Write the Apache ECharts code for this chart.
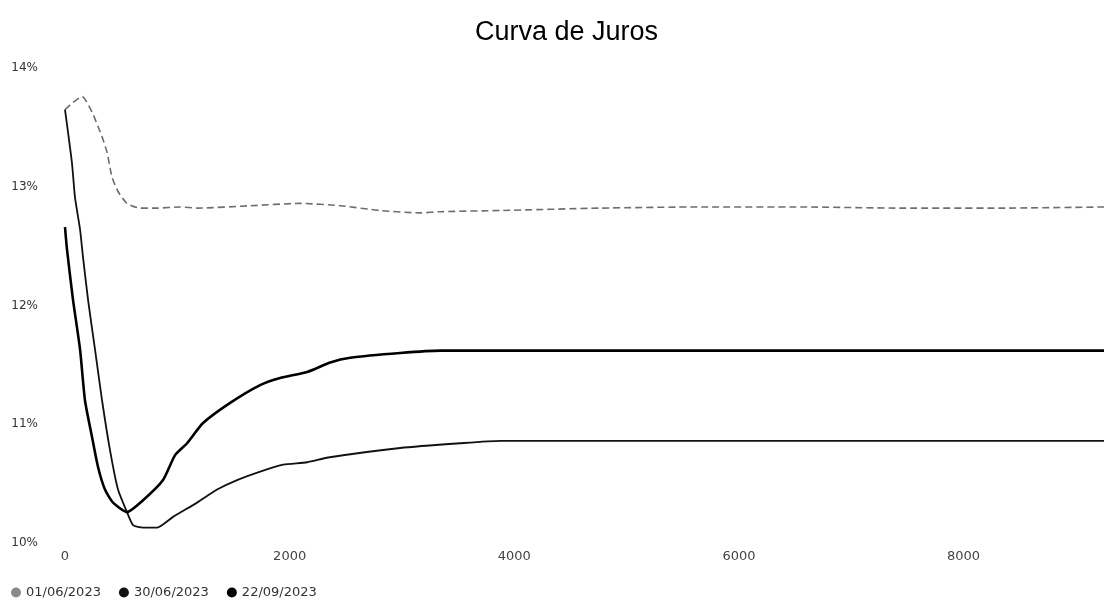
<!DOCTYPE html>
<html>
<head>
<meta charset="utf-8">
<title>Curva de Juros</title>
<script src="https://cdn.jsdelivr.net/npm/echarts@6/dist/echarts.min.js"></script>
<style>
    html, body { margin: 0; padding: 0; background: #fff; }
    #chart { width: 1104px; height: 601px; }
</style>
</head>
<body>
<div id="chart"></div>
<script>
// Series names (legend)
const seriesNames = ['01/06/2023', '30/06/2023', '22/09/2023'];

// 01/06/2023 - days to maturity and rate (%)
const days0106 = [0, 71, 151, 240, 330, 374, 419, 472, 552, 668, 820, 1024, 1176, 1648, 2094, 2450, 2806, 3163, 3341, 3875, 4766, 5657, 6548, 7439, 8330, 9250];
const rate0106 = [13.65, 13.71, 13.76, 13.63, 13.42, 13.29, 13.08, 12.96, 12.86, 12.82, 12.82, 12.83, 12.82, 12.84, 12.86, 12.84, 12.80, 12.78, 12.79, 12.80, 12.82, 12.83, 12.83, 12.82, 12.82, 12.83];

// 30/06/2023
const days3006 = [0, 62, 89, 134, 160, 205, 267, 330, 401, 472, 552, 606, 695, 820, 962, 1176, 1354, 1532, 1764, 1942, 2156, 2343, 2984, 3519, 3875, 9250];
const rate3006 = [13.65, 13.20, 12.91, 12.64, 12.41, 12.05, 11.63, 11.20, 10.78, 10.45, 10.26, 10.15, 10.13, 10.13, 10.22, 10.34, 10.45, 10.53, 10.61, 10.66, 10.68, 10.72, 10.80, 10.84, 10.86, 10.86];

// 22/09/2023
const days2209 = [0, 18, 71, 134, 178, 241, 294, 356, 428, 552, 695, 873, 980, 1087, 1229, 1470, 1737, 1915, 2156, 2361, 2539, 2984, 3341, 9250];
const rate2209 = [12.66, 12.47, 12.05, 11.63, 11.20, 10.89, 10.64, 10.45, 10.34, 10.26, 10.36, 10.53, 10.74, 10.84, 11.01, 11.18, 11.33, 11.39, 11.44, 11.52, 11.56, 11.60, 11.62, 11.62];

// Axis settings
const xTicks = { min: 0, max: 9250, interval: 2000 };
const yTicks = { min: 10, max: 14, interval: 1 };

function toPairs(xs, ys) {
    return xs.map((x, i) => [x, ys[i]]);
}

const chart = echarts.init(document.getElementById('chart'), null, { renderer: 'canvas' });

const option = {
    animation: false,
    backgroundColor: '#ffffff',
    title: {
        text: 'Curva de Juros',
        left: 470,
        top: 14,
        textStyle: {
            fontFamily: 'Liberation Sans',
            fontSize: 27,
            fontWeight: 'normal',
            color: '#000'
        }
    },
    legend: {
        data: seriesNames,
        left: 6,
        top: 581,
        icon: 'circle',
        itemWidth: 10,
        itemHeight: 10,
        itemGap: 18,
        textStyle: {
            fontFamily: 'DejaVu Sans',
            fontSize: 13,
            color: '#333'
        }
    },
    grid: {
        left: 65,
        right: 0,
        top: 68,
        bottom: 58
    },
    xAxis: {
        type: 'value',
        min: xTicks.min,
        max: xTicks.max,
        interval: xTicks.interval,
        axisLine: { show: false },
        axisTick: { show: false },
        splitLine: { show: false },
        axisLabel: {
            showMaxLabel: false,
            margin: 7,
            fontFamily: 'DejaVu Sans',
            fontSize: 13,
            color: '#444',
            formatter: v => String(v)
        }
    },
    yAxis: {
        type: 'value',
        min: yTicks.min,
        max: yTicks.max,
        interval: yTicks.interval,
        axisLine: { show: false },
        axisTick: { show: false },
        splitLine: { show: false },
        axisLabel: {
            margin: 27,
            fontFamily: 'DejaVu Sans',
            fontSize: 12,
            color: '#333',
            formatter: v => v + '%'
        }
    },
    series: [
        {
            name: seriesNames[0],
            type: 'line',
            data: toPairs(days0106, rate0106),
            showSymbol: false,
            smooth: 0.2,
            color: '#8a8a8a',
            lineStyle: { width: 1.6, type: [7, 4], color: '#6e6e6e' }
        },
        {
            name: seriesNames[1],
            type: 'line',
            data: toPairs(days3006, rate3006),
            showSymbol: false,
            smooth: 0.2,
            color: '#111',
            lineStyle: { width: 1.8, color: '#111' }
        },
        {
            name: seriesNames[2],
            type: 'line',
            data: toPairs(days2209, rate2209),
            showSymbol: false,
            smooth: 0.2,
            color: '#000',
            lineStyle: { width: 2.6, color: '#000' }
        }
    ]
};

chart.setOption(option);
</script>
</body>
</html>
